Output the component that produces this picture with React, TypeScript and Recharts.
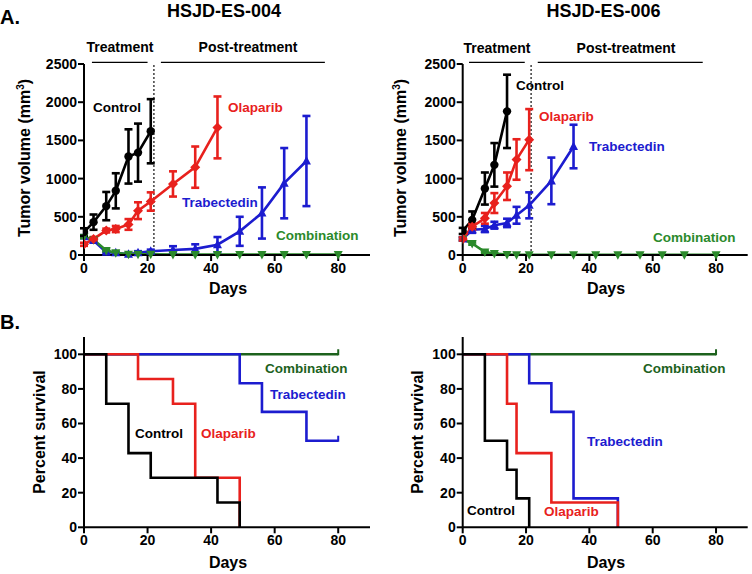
import React from 'react';
import { LineChart, Line, XAxis, YAxis, ErrorBar, ReferenceLine } from 'recharts';

const FONT = '"Liberation Sans", Arial, sans-serif';
const BLACK = '#000000';
const RED = '#e8211d';
const BLUE = '#1c1ccf';
const GREEN = '#2b8a2b';
const DARK_GREEN = '#1d621d';

// A. tumor volume, HSJD-ES-004
const ctrl004Days = [0, 3, 7, 10, 14, 17, 21];
const ctrl004Vol = [300, 430, 640, 840, 1290, 1340, 1620];
const ctrl004Err = [50, 100, 185, 230, 355, 380, 420];
const ola004Days = [0, 3, 7, 10, 14, 17, 21, 28, 35, 42];
const ola004Vol = [140, 210, 320, 340, 400, 580, 700, 930, 1150, 1670];
const ola004Err = [20, 25, 25, 40, 70, 110, 120, 165, 270, 405];
const tra004Days = [0, 3, 7, 10, 14, 17, 21, 28, 35, 42, 49, 56, 63, 70];
const tra004Vol = [240, 190, 35, 30, 10, 30, 50, 65, 80, 135, 310, 550, 940, 1230];
const tra004Err = [20, 20, 15, 15, 10, 20, 20, 50, 60, 100, 190, 335, 460, 590];
const com004Days = [0, 3, 7, 10, 14, 17, 21, 28, 35, 42, 49, 56, 63, 70, 80];
const com004Vol = [240, 200, 60, 30, 10, 10, 10, 5, 5, 5, 5, 5, 5, 5, 5];
const com004Err = [20, 20, 15, 10, 5, 5, 5, 0, 0, 0, 0, 0, 0, 0, 0];

// A. tumor volume, HSJD-ES-006
const ctrl006Days = [0, 3, 7, 10, 14];
const ctrl006Vol = [315, 460, 870, 1180, 1880];
const ctrl006Err = [40, 110, 210, 285, 480];
const ola006Days = [0, 3, 7, 10, 14, 17, 21];
const ola006Vol = [210, 370, 480, 680, 900, 1250, 1510];
const ola006Err = [20, 40, 70, 130, 180, 265, 400];
const tra006Days = [0, 3, 7, 10, 14, 17, 21, 28, 35];
const tra006Vol = [210, 330, 340, 390, 420, 520, 650, 970, 1420];
const tra006Err = [20, 40, 40, 45, 55, 110, 170, 305, 285];
const com006Days = [0, 3, 7, 10, 14, 17, 21, 28, 35, 42, 49, 56, 63, 70, 80];
const com006Vol = [210, 150, 40, 20, 5, 3, 3, 3, 3, 3, 3, 3, 3, 3, 3];
const com006Err = [20, 15, 10, 5, 0, 0, 0, 0, 0, 0, 0, 0, 0, 0, 0];

// B. survival, HSJD-ES-004
const ctrlSurv004Days = [0, 7, 14, 21, 42, 49];
const ctrlSurv004Pct = [100, 71.4, 42.9, 28.6, 14.3, 0];
const olaSurv004Days = [0, 17, 28, 35, 49];
const olaSurv004Pct = [100, 85.7, 71.4, 28.6, 0];
const traSurv004Days = [0, 49, 56, 70, 80];
const traSurv004Pct = [100, 83.3, 66.7, 50, 50];
const comSurv004Days = [0, 80];
const comSurv004Pct = [100, 100];

// B. survival, HSJD-ES-006
const ctrlSurv006Days = [0, 7, 14, 17, 21];
const ctrlSurv006Pct = [100, 50, 33.3, 16.7, 0];
const olaSurv006Days = [0, 14, 17, 28, 49];
const olaSurv006Pct = [100, 71.4, 42.9, 14.3, 0];
const traSurv006Days = [0, 21, 28, 35, 49];
const traSurv006Pct = [100, 83.3, 66.7, 16.7, 0];
const comSurv006Days = [0, 80];
const comSurv006Pct = [100, 100];

const dayTicks = [0, 20, 40, 60, 80];
const volTicks = [0, 500, 1000, 1500, 2000, 2500];
const pctTicks = [0, 20, 40, 60, 80, 100];

const growthRows = (days: number[], vol: number[], err: number[]) =>
  days.map((d, i) => ({ day: d, vol: vol[i], err: err[i] }));
const survRows = (days: number[], pct: number[]) => days.map((d, i) => ({ day: d, pct: pct[i] }));

const tickStyle = { fill: '#000', fontSize: 14, fontWeight: 'bold', fontFamily: FONT };

const marker = (shape: string, color: string) => (props: any) => {
  const { cx, cy, index } = props;
  const k = `${shape}-${index}`;
  if (cx == null || cy == null) return <g key={k} />;
  if (shape === 'circle') return <circle key={k} cx={cx} cy={cy} r={4.2} fill={color} />;
  if (shape === 'diamond')
    return <path key={k} d={`M${cx},${cy - 5}L${cx + 5},${cy}L${cx},${cy + 5}L${cx - 5},${cy}Z`} fill={color} />;
  if (shape === 'up')
    return <path key={k} d={`M${cx},${cy - 5}L${cx + 4.5},${cy + 3.5}L${cx - 4.5},${cy + 3.5}Z`} fill={color} />;
  return <path key={k} d={`M${cx},${cy + 5}L${cx + 4.5},${cy - 3.5}L${cx - 4.5},${cy - 3.5}Z`} fill={color} />;
};

// small vertical tick on the last point = censored subjects
const censorTick = (color: string, censored: boolean) => (props: any) => {
  const { cx, cy, index, points } = props;
  const k = `c-${index}`;
  if (!censored || cx == null || index !== (points ? points.length - 1 : -1)) return <g key={k} />;
  return <line key={k} x1={cx} x2={cx} y1={cy - 5} y2={cy + 1} stroke={color} strokeWidth={2} />;
};

type GrowthSeries = { name: string; rows: any[]; color: string; shape: string };
type SurvSeries = { name: string; rows: any[]; color: string; censored: boolean };

const GrowthChart = ({ left, mLeft, mRight, series, split, treat, post }: any) => (
  <div style={{ position: 'absolute', left, top: 0 }}>
    <LineChart width={376} height={290} margin={{ top: 64, right: mRight, bottom: 5, left: mLeft }}>
      <XAxis
        type="number"
        dataKey="day"
        domain={[0, 90]}
        ticks={dayTicks}
        allowDataOverflow
        height={30}
        tick={tickStyle}
        tickSize={6}
        tickMargin={2}
        axisLine={{ stroke: '#000', strokeWidth: 2 }}
        tickLine={{ stroke: '#000', strokeWidth: 2 }}
      />
      <YAxis
        type="number"
        domain={[0, 2500]}
        ticks={volTicks}
        width={44}
        tick={tickStyle}
        tickSize={6}
        tickMargin={1}
        axisLine={{ stroke: '#000', strokeWidth: 2 }}
        tickLine={{ stroke: '#000', strokeWidth: 2 }}
      />
      <ReferenceLine x={split} stroke="#222" strokeDasharray="2 2" strokeWidth={1.3} />
      <ReferenceLine segment={[{ x: treat[0], y: 2520 }, { x: treat[1], y: 2520 }]} stroke="#000" strokeWidth={1.2} ifOverflow="visible" />
      <ReferenceLine segment={[{ x: post[0], y: 2520 }, { x: post[1], y: 2520 }]} stroke="#000" strokeWidth={1.2} ifOverflow="visible" />
      {series.map((s: GrowthSeries) => (
        <Line
          key={s.name}
          data={s.rows}
          dataKey="vol"
          stroke={s.color}
          strokeWidth={2.6}
          dot={marker(s.shape, s.color)}
          activeDot={false}
          isAnimationActive={false}
        >
          <ErrorBar dataKey="err" direction="y" width={4} stroke={s.color} strokeWidth={2.6} isAnimationActive={false} />
        </Line>
      ))}
    </LineChart>
  </div>
);

const SurvivalChart = ({ left, mLeft, mRight, series }: any) => (
  <div style={{ position: 'absolute', left, top: 290 }}>
    <LineChart width={376} height={284} margin={{ top: 47, right: mRight, bottom: 16.7, left: mLeft }}>
      <XAxis
        type="number"
        dataKey="day"
        domain={[0, 90]}
        ticks={dayTicks}
        allowDataOverflow
        height={30}
        tick={tickStyle}
        tickSize={6}
        tickMargin={2}
        axisLine={{ stroke: '#000', strokeWidth: 2 }}
        tickLine={{ stroke: '#000', strokeWidth: 2 }}
      />
      <YAxis
        type="number"
        domain={[0, 110]}
        ticks={pctTicks}
        width={44}
        tick={tickStyle}
        tickSize={6}
        tickMargin={1}
        axisLine={{ stroke: '#000', strokeWidth: 2 }}
        tickLine={{ stroke: '#000', strokeWidth: 2 }}
      />
      {series.map((s: SurvSeries) => (
        <Line
          key={s.name}
          type="stepAfter"
          data={s.rows}
          dataKey="pct"
          stroke={s.color}
          strokeWidth={2.6}
          dot={censorTick(s.color, s.censored)}
          activeDot={false}
          isAnimationActive={false}
        />
      ))}
    </LineChart>
  </div>
);

const Txt = ({ x, y, size = 13.5, color = '#000', align = 'left', children }: any) => (
  <div
    style={{
      position: 'absolute',
      left: x,
      top: y - size / 2,
      transform: align === 'center' ? 'translateX(-50%)' : undefined,
      fontFamily: FONT,
      fontWeight: 'bold',
      fontSize: size,
      lineHeight: `${size}px`,
      color,
      whiteSpace: 'nowrap',
    }}
  >
    {children}
  </div>
);

const VTxt = ({ x, y, children }: any) => (
  <div
    style={{
      position: 'absolute',
      left: x,
      top: y,
      transform: 'translate(-50%, -50%) rotate(-90deg)',
      fontFamily: FONT,
      fontWeight: 'bold',
      fontSize: 16,
      lineHeight: '16px',
      whiteSpace: 'nowrap',
    }}
  >
    {children}
  </div>
);

export default function App() {
  const growth004: GrowthSeries[] = [
    { name: 'Trabectedin', rows: growthRows(tra004Days, tra004Vol, tra004Err), color: BLUE, shape: 'up' },
    { name: 'Combination', rows: growthRows(com004Days, com004Vol, com004Err), color: GREEN, shape: 'down' },
    { name: 'Olaparib', rows: growthRows(ola004Days, ola004Vol, ola004Err), color: RED, shape: 'diamond' },
    { name: 'Control', rows: growthRows(ctrl004Days, ctrl004Vol, ctrl004Err), color: BLACK, shape: 'circle' },
  ];
  const growth006: GrowthSeries[] = [
    { name: 'Combination', rows: growthRows(com006Days, com006Vol, com006Err), color: GREEN, shape: 'down' },
    { name: 'Trabectedin', rows: growthRows(tra006Days, tra006Vol, tra006Err), color: BLUE, shape: 'up' },
    { name: 'Control', rows: growthRows(ctrl006Days, ctrl006Vol, ctrl006Err), color: BLACK, shape: 'circle' },
    { name: 'Olaparib', rows: growthRows(ola006Days, ola006Vol, ola006Err), color: RED, shape: 'diamond' },
  ];
  const surv004: SurvSeries[] = [
    { name: 'Combination', rows: survRows(comSurv004Days, comSurv004Pct), color: DARK_GREEN, censored: true },
    { name: 'Trabectedin', rows: survRows(traSurv004Days, traSurv004Pct), color: BLUE, censored: true },
    { name: 'Olaparib', rows: survRows(olaSurv004Days, olaSurv004Pct), color: RED, censored: false },
    { name: 'Control', rows: survRows(ctrlSurv004Days, ctrlSurv004Pct), color: BLACK, censored: false },
  ];
  const surv006: SurvSeries[] = [
    { name: 'Combination', rows: survRows(comSurv006Days, comSurv006Pct), color: DARK_GREEN, censored: true },
    { name: 'Trabectedin', rows: survRows(traSurv006Days, traSurv006Pct), color: BLUE, censored: false },
    { name: 'Olaparib', rows: survRows(olaSurv006Days, olaSurv006Pct), color: RED, censored: false },
    { name: 'Control', rows: survRows(ctrlSurv006Days, ctrlSurv006Pct), color: BLACK, censored: false },
  ];

  const volLabel = (
    <span>
      Tumor volume (mm<sup style={{ fontSize: 10, lineHeight: 0 }}>3</sup>)
    </span>
  );

  return (
    <div style={{ position: 'absolute', left: 0, top: 0, width: 752, height: 574, background: '#fff' }}>
      <GrowthChart left={0} mLeft={40} mRight={6} series={growth004} split={22} treat={[2.5, 20]} post={[24.2, 75.8]} />
      <GrowthChart left={376} mLeft={42.7} mRight={4.3} series={growth006} split={21.6} treat={[2, 19.6]} post={[23.7, 75.8]} />
      <SurvivalChart left={0} mLeft={40} mRight={6} series={surv004} />
      <SurvivalChart left={376} mLeft={42.7} mRight={4.3} series={surv006} />

      <Txt x={0} y={17} size={20}>A.</Txt>
      <Txt x={0} y={322} size={20}>B.</Txt>
      <Txt x={224} y={11} size={18} align="center">HSJD-ES-004</Txt>
      <Txt x={603.5} y={11} size={18} align="center">HSJD-ES-006</Txt>

      <Txt x={120} y={47} size={14} align="center">Treatment</Txt>
      <Txt x={248} y={47} size={14} align="center">Post-treatment</Txt>
      <Txt x={497} y={48} size={14} align="center">Treatment</Txt>
      <Txt x={626} y={48} size={14} align="center">Post-treatment</Txt>

      <Txt x={93} y={108}>Control</Txt>
      <Txt x={228} y={108} color={RED}>Olaparib</Txt>
      <Txt x={182} y={203} color={BLUE}>Trabectedin</Txt>
      <Txt x={276} y={236} color={GREEN}>Combination</Txt>

      <Txt x={516} y={86}>Control</Txt>
      <Txt x={539} y={117} color={RED}>Olaparib</Txt>
      <Txt x={589} y={147} color={BLUE}>Trabectedin</Txt>
      <Txt x={653} y={238} color={GREEN}>Combination</Txt>

      <Txt x={265} y={369} color={DARK_GREEN}>Combination</Txt>
      <Txt x={270} y={395} color={BLUE}>Trabectedin</Txt>
      <Txt x={135} y={434}>Control</Txt>
      <Txt x={201} y={434} color={RED}>Olaparib</Txt>

      <Txt x={643} y={369} color={DARK_GREEN}>Combination</Txt>
      <Txt x={587} y={442} color={BLUE}>Trabectedin</Txt>
      <Txt x={467} y={511}>Control</Txt>
      <Txt x={544} y={512} color={RED}>Olaparib</Txt>

      <Txt x={228} y={289} size={16} align="center">Days</Txt>
      <Txt x={606} y={289} size={16} align="center">Days</Txt>
      <Txt x={228} y={563} size={16} align="center">Days</Txt>
      <Txt x={606} y={563} size={16} align="center">Days</Txt>

      <VTxt x={25} y={158}>{volLabel}</VTxt>
      <VTxt x={401} y={158}>{volLabel}</VTxt>
      <VTxt x={40} y={432}>Percent survival</VTxt>
      <VTxt x={418} y={432}>Percent survival</VTxt>
    </div>
  );
}
